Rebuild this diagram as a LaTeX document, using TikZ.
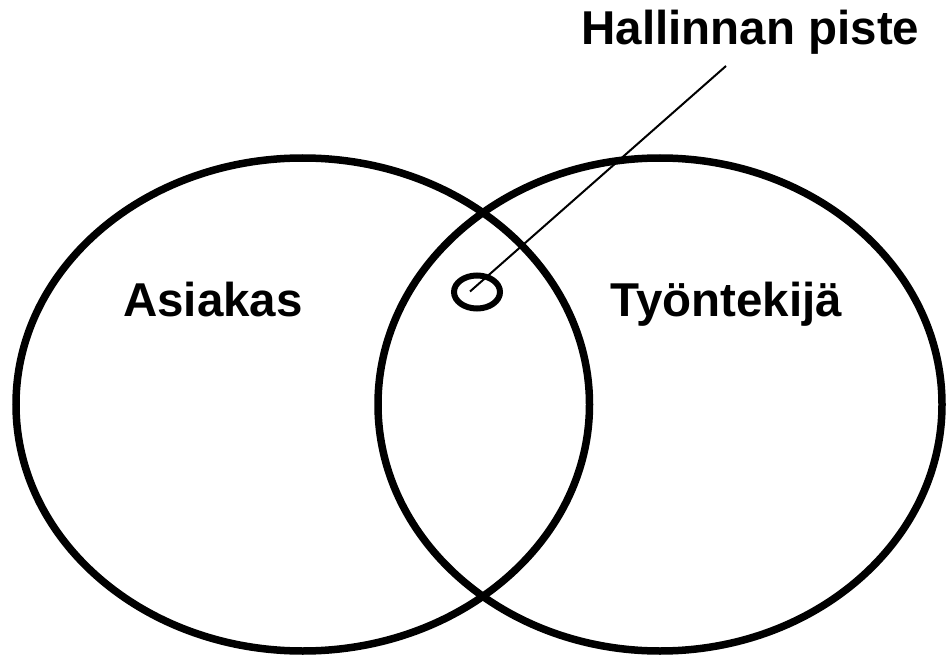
\documentclass[tikz,border=0pt]{standalone}
\usepackage{fontspec}
\setmainfont{Liberation Sans}
\usetikzlibrary{shapes.geometric}
\begin{document}
\begin{tikzpicture}[x=1pt,y=-1pt,
  bigset/.style={draw=black,line width=7.5pt,ellipse,inner sep=0pt},
  label/.style={font=\fontsize{47.5}{52}\selectfont\bfseries,inner sep=0pt,anchor=base},
  leader/.style={draw=black,line width=2pt}]
\useasboundingbox (0,0) rectangle (946,658);
\fill[white] (0,0) rectangle (946,658);
\node[bigset,minimum width=573.5pt,minimum height=493pt] (asiakas) at (302.75,404.5) {};
\node[bigset,minimum width=564pt,minimum height=493pt] (tyontekija) at (660,404.5) {};
\node[draw=black,line width=6pt,ellipse,inner sep=0pt,minimum width=46pt,minimum height=33pt] (piste) at (477,292) {};
\node[label] (la) at (213,316.5) {Asiakas};
\node[label] (lt) at (726.5,316.5) {Työntekijä};
\node[label] (lh) at (750.5,45) {Hallinnan piste};
\coordinate (top) at (726,66);
\coordinate (tip) at (470,291.5);
\draw[leader] (top) -- (tip);
\end{tikzpicture}
\end{document}
